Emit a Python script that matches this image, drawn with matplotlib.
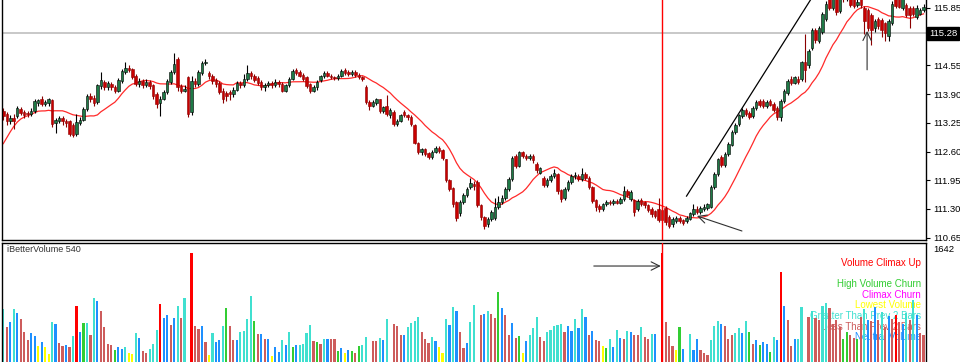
import matplotlib
matplotlib.use("Agg")
import matplotlib.pyplot as plt
import numpy as np
import pandas as pd

# ---------------- data ----------------
open_ = [
    113.52,113.45,113.30,113.36,113.40,113.56,113.50,113.48,113.45,113.52,
    113.70,113.78,113.68,113.70,113.76,113.24,113.30,113.36,113.30,113.28,
    113.20,113.00,113.24,113.32,113.56,113.86,113.82,113.72,114.08,114.18,
    114.06,114.14,114.06,113.98,114.20,114.40,114.50,114.46,114.32,114.12,
    114.20,114.10,114.18,114.10,113.90,113.70,113.80,113.95,114.18,114.40,
    114.70,114.08,113.98,114.28,113.50,114.20,114.12,114.38,114.60,114.38,
    114.32,114.22,114.16,113.98,113.92,113.95,113.90,114.00,114.15,114.10,
    114.24,114.38,114.32,114.26,114.18,114.05,114.10,114.15,114.10,114.18,
    114.14,113.98,114.10,114.25,114.44,114.40,114.34,114.28,114.12,113.98,
    114.05,114.22,114.30,114.38,114.32,114.28,114.26,114.32,114.44,114.40,
    114.36,114.40,114.34,114.28,114.05,113.72,113.64,113.70,113.78,113.52,
    113.62,113.42,113.50,113.22,113.30,113.50,113.42,113.38,113.20,112.80,
    112.58,112.66,112.56,112.48,112.60,112.68,112.64,112.42,111.95,111.78,
    111.45,111.20,111.45,111.62,111.80,111.86,111.90,111.38,111.12,110.95,
    111.08,111.10,111.35,111.45,111.55,111.75,111.98,112.50,112.28,112.58,
    112.50,112.45,112.50,112.32,112.12,112.00,111.85,111.95,112.05,112.10,
    111.72,111.55,111.75,111.90,112.05,112.04,111.98,112.10,112.00,111.80,
    111.50,111.36,111.30,111.40,111.46,111.43,111.48,111.44,111.52,111.70,
    111.52,111.50,111.30,111.50,111.45,111.38,111.30,111.25,111.30,111.28,
    111.32,111.12,110.95,111.02,111.10,111.05,111.02,111.08,111.18,111.30,
    111.22,111.30,111.32,111.35,111.80,112.08,112.48,112.30,112.55,112.75,
    113.05,113.22,113.40,113.55,113.48,113.40,113.58,113.75,113.74,113.62,
    113.74,113.68,113.58,113.38,113.75,113.92,114.25,114.15,114.25,114.25,
    114.62,114.55,114.95,115.35,115.10,115.30,115.60,116.15,115.85,116.15,
    115.78,116.10,116.05,116.20,116.10,115.92,116.05,115.85,115.80,115.70,
    115.40,115.60,115.58,115.50,115.22,115.50,116.10,116.05,115.85,115.92,
    115.85,115.85,115.65,115.72,115.80,
]
high = [
    113.58,113.50,113.42,113.45,113.62,113.60,113.55,113.52,113.58,113.78,
    113.80,113.86,113.76,113.82,113.80,113.36,113.40,113.40,113.34,113.32,
    113.24,113.45,113.38,113.60,113.90,113.92,113.88,114.14,114.40,114.22,
    114.20,114.18,114.10,114.26,114.46,114.62,114.56,114.50,114.36,114.26,
    114.24,114.24,114.22,114.14,113.94,113.86,114.00,114.24,114.44,114.82,
    114.74,114.12,114.10,114.32,114.30,114.26,114.44,114.64,114.70,114.42,
    114.36,114.26,114.20,114.04,113.98,114.00,114.06,114.20,114.20,114.35,
    114.56,114.42,114.36,114.30,114.22,114.16,114.20,114.20,114.24,114.22,
    114.18,114.14,114.28,114.46,114.48,114.44,114.38,114.30,114.16,114.10,
    114.22,114.34,114.42,114.42,114.36,114.32,114.36,114.46,114.48,114.44,
    114.44,114.44,114.38,114.32,114.10,113.76,113.76,113.82,113.80,113.64,
    113.88,113.58,113.54,113.34,113.46,113.54,113.46,113.42,113.22,112.82,
    112.68,112.68,112.60,112.64,112.72,112.72,112.66,112.44,111.98,111.80,
    111.48,111.50,111.66,111.80,112.00,111.94,111.95,111.40,111.14,111.12,
    111.28,111.55,111.60,111.62,111.80,112.02,112.50,112.54,112.62,112.62,
    112.54,112.54,112.54,112.36,112.26,112.04,112.00,112.10,112.20,112.12,
    111.75,111.80,111.95,112.10,112.14,112.10,112.22,112.14,112.04,111.82,
    111.52,111.40,111.44,111.50,111.50,111.52,111.52,111.56,111.82,111.76,
    111.72,111.52,111.52,111.54,111.48,111.42,111.34,111.28,111.55,111.40,
    111.36,111.16,111.12,111.14,111.14,111.08,111.14,111.24,111.40,111.36,
    111.36,111.40,111.44,111.84,112.14,112.46,112.52,112.58,112.82,113.08,
    113.24,113.46,113.58,113.58,113.52,113.62,113.76,113.78,113.78,113.76,
    113.78,113.72,113.62,113.80,114.02,114.24,114.30,114.32,114.30,114.66,
    115.25,114.92,115.40,115.40,115.45,115.76,116.00,116.20,116.20,116.25,
    116.20,116.20,116.25,116.25,116.15,116.05,116.10,115.90,115.84,115.74,
    115.60,115.64,115.62,115.54,115.60,116.00,116.15,116.10,116.15,115.96,
    115.90,115.90,115.92,115.86,115.94,
]
low = [
    113.32,113.20,113.22,113.12,113.35,113.42,113.36,113.38,113.40,113.48,
    113.64,113.62,113.62,113.64,113.15,113.02,113.24,113.20,113.16,112.94,
    112.92,112.96,113.20,113.28,113.52,113.72,113.64,113.68,114.02,114.00,
    114.00,114.00,113.92,113.94,114.16,114.36,114.40,114.24,114.08,114.06,
    114.04,114.06,114.02,113.80,113.58,113.40,113.76,113.90,114.14,114.36,
    113.98,113.92,113.94,113.38,113.42,114.06,114.08,114.34,114.56,114.24,
    114.14,114.06,113.90,113.70,113.74,113.76,113.84,113.96,114.04,114.06,
    114.20,114.24,114.18,114.10,114.00,113.98,114.06,114.04,114.06,114.06,
    113.94,113.94,114.06,114.22,114.34,114.28,114.20,114.04,113.92,113.94,
    114.00,114.18,114.26,114.28,114.24,114.22,114.22,114.28,114.34,114.32,
    114.32,114.28,114.24,114.20,113.68,113.55,113.60,113.66,113.48,113.48,
    113.40,113.36,113.18,113.18,113.26,113.38,113.32,113.18,112.76,112.54,
    112.52,112.50,112.42,112.44,112.56,112.56,112.40,111.90,111.70,111.34,
    111.02,111.15,111.40,111.58,111.74,111.72,111.34,111.06,110.84,110.90,
    111.02,111.06,111.30,111.40,111.50,111.70,111.94,112.22,112.24,112.46,
    112.40,112.40,112.34,112.12,112.08,111.80,111.80,111.90,112.00,111.64,
    111.45,111.50,111.70,111.86,111.98,111.94,111.94,111.96,111.76,111.44,
    111.26,111.24,111.26,111.36,111.38,111.38,111.40,111.40,111.48,111.56,
    111.48,111.15,111.26,111.36,111.32,111.22,111.12,111.10,111.00,110.98,
    110.94,110.86,110.90,110.98,110.98,110.94,110.98,111.04,111.14,111.18,
    111.18,111.26,111.28,111.32,111.76,112.04,112.26,112.26,112.50,112.72,
    113.00,113.18,113.36,113.40,113.34,113.36,113.54,113.60,113.58,113.58,
    113.62,113.50,113.32,113.30,113.70,113.88,114.10,114.12,114.14,114.20,
    114.18,114.50,114.90,115.05,115.05,115.26,115.55,115.80,115.80,115.70,
    115.74,115.98,116.00,115.88,115.85,115.88,115.85,115.25,115.34,115.02,
    115.30,115.38,115.20,115.10,115.10,115.46,115.86,115.84,115.80,115.64,
    115.40,115.66,115.60,115.68,115.76,
]
close = [
    113.40,113.28,113.36,113.30,113.58,113.48,113.42,113.44,113.52,113.74,
    113.76,113.68,113.72,113.78,113.22,113.32,113.36,113.28,113.24,113.00,
    112.98,113.26,113.32,113.56,113.86,113.80,113.70,114.10,114.22,114.05,
    114.15,114.05,113.98,114.22,114.42,114.50,114.45,114.28,114.12,114.20,
    114.10,114.18,114.08,113.85,113.68,113.80,113.95,114.20,114.40,114.58,
    114.05,113.98,114.02,113.45,114.20,114.12,114.40,114.60,114.63,114.30,
    114.20,114.12,113.95,113.80,113.85,113.90,114.00,114.15,114.10,114.25,
    114.38,114.30,114.22,114.15,114.05,114.10,114.15,114.10,114.18,114.12,
    113.98,114.10,114.25,114.42,114.38,114.32,114.25,114.08,113.98,114.05,
    114.18,114.30,114.38,114.32,114.28,114.26,114.32,114.42,114.38,114.36,
    114.40,114.33,114.28,114.25,113.72,113.62,113.72,113.78,113.52,113.60,
    113.45,113.55,113.22,113.30,113.42,113.42,113.38,113.22,112.80,112.58,
    112.65,112.55,112.48,112.60,112.68,112.62,112.45,111.95,111.75,111.40,
    111.10,111.45,111.62,111.75,111.88,111.82,111.38,111.12,110.92,111.08,
    111.22,111.35,111.45,111.55,111.75,111.98,112.45,112.28,112.58,112.50,
    112.45,112.50,112.40,112.18,112.22,111.85,111.95,112.05,112.12,111.70,
    111.52,111.75,111.90,112.05,112.05,111.98,112.08,112.00,111.80,111.48,
    111.34,111.30,111.40,111.45,111.43,111.48,111.44,111.52,111.70,111.62,
    111.68,111.22,111.48,111.40,111.38,111.28,111.18,111.15,111.05,111.05,
    111.00,110.92,111.08,111.10,111.02,110.98,111.10,111.20,111.30,111.22,
    111.32,111.35,111.40,111.80,112.10,112.42,112.30,112.55,112.78,113.05,
    113.20,113.42,113.55,113.45,113.38,113.58,113.72,113.65,113.62,113.72,
    113.66,113.55,113.38,113.75,113.98,114.20,114.15,114.28,114.18,114.62,
    114.45,114.88,115.35,115.12,115.40,115.72,115.95,115.85,116.10,115.75,
    116.10,116.05,116.15,115.92,115.90,115.98,115.92,115.55,115.40,115.35,
    115.55,115.45,115.35,115.28,115.55,115.95,115.90,115.88,116.05,115.70,
    115.68,115.72,115.85,115.80,115.88,
]
# closes of the bars just before the visible window (for the moving average)
prior_close = [111.4, 111.5, 111.6, 112.2, 112.5, 112.8, 113.0, 113.1, 113.2,
               113.3, 113.6, 113.7, 113.6]
ma_period = 14

volume = [
    736,482,560,736,676,593,412,306,398,361,
    222,278,213,111,556,528,264,222,241,204,
    361,778,421,542,542,375,884,847,713,482,
    250,236,167,204,181,213,130,111,398,338,
    157,130,181,250,444,810,616,653,519,616,
    773,607,884,0,1519,505,458,500,278,97,
    398,282,306,505,750,495,306,306,421,435,
    593,917,569,384,384,319,315,83,204,144,
    306,241,421,213,241,241,250,407,519,292,
    278,250,324,324,315,315,153,190,120,167,
    153,120,222,236,343,0,292,292,333,306,
    593,0,528,495,370,370,482,542,569,625,
    412,324,264,343,292,204,120,593,509,764,
    704,421,194,264,556,787,0,653,667,713,
    667,607,968,750,653,375,542,338,361,130,
    292,375,472,625,347,292,412,449,495,519,
    528,421,495,435,593,472,736,630,375,435,
    306,292,222,190,315,204,444,338,315,435,
    421,375,375,491,352,319,384,384,0,1519,
    556,361,218,167,482,181,0,384,167,324,
    167,130,97,310,495,569,532,505,324,375,
    407,468,407,569,417,250,301,236,273,250,
    139,347,306,1245,773,579,218,315,319,769,
    0,630,713,607,579,782,815,745,523,579,
    482,315,412,380,338,319,620,736,583,565,
    769,583,699,486,639,597,653,560,528,676,
    583,861,653,407,375,
]
vol_class = list(
    "TIBTBIIIBB" "YBYYTBIIBI" "TRBGTITBII" "IIGBBTYYTB" "IITTTRBBIB"
    "TITWRIIBIY" "TBBTGIIBTT" "TTGIBIBYBB" "TBTGBTTTTI" "GITBIIGBYB"
    "GIGTTWIITB" "TWIIIBTTTT" "IIITBYYTBT" "BIIBTTWIBT" "IIGBIIBIGY"
    "BTTTIITTTT" "TIBBTBTBIB" "IIYGTBTBIT" "BIITIITBWR" "IIIYGBWTBB"
    "IIITTTBIII" "TTBTGIBGBB" "GTBRBIIBTT" "WITIITTIII" "IGGIIGITBI"
    "BITIBIRIBT" "ITBII"
)

price_ticks = [110.65, 111.30, 111.95, 112.60, 113.25, 113.90, 114.55, 115.20, 115.85]
current_price = 115.28
vol_top_label = "1642"
marker_bar = 189
indicator_name = "iBetterVolume 540"
legend_labels = ["Volume Climax Up", "Volume Climax Down", "High Volume Churn",
                 "Climax Churn", "Lowest Volume", "Greater Than Prev 2 Bars",
                 "Less Than Prev 2 Bars", "Neutral Volume"]
legend_keys = ["R", "W", "G", "M", "Y", "T", "I", "B"]
class_colors = {"R": "#FF0000", "W": "#FFFFFF", "G": "#32CD32", "M": "#FF00FF",
                "Y": "#FFFF00", "T": "#40E0D0", "I": "#CD5C5C", "B": "#1E90FF"}

# annotation anchors (bar index, price / volume)
trend_line = ((196.0, 111.59), (232.5, 116.15))
arrows_main = [((211.9, 110.80), (199.0, 111.14)),
               ((247.8, 114.45), (247.8, 115.33))]
arrow_vol = ((169.4, 1334), (188.6, 1334))

# ---------------- figure ----------------
W, H = 960, 362
fig = plt.figure(figsize=(W / 100, H / 100), dpi=100)
fig.patch.set_facecolor("white")
L, AW = 2 / W, 924 / W
ax = fig.add_axes([L, 1 - 240 / H, AW, 240 / H])
axv = fig.add_axes([L, 0, AW, 119 / H])

n = min(len(open_), len(high), len(low), len(close), len(volume), len(vol_class))
x = np.arange(n)
o = np.array(open_[:n]); hi = np.array(high[:n]); lo = np.array(low[:n]); c = np.array(close[:n])
up = c >= o

xlim = (-0.37, 264.7)
for a in (ax, axv):
    a.set_xlim(*xlim)
    a.set_xticks([])
    a.set_facecolor("white")
ax.set_ylim(110.596, 116.031)
axv.set_ylim(0, 1654)

# current price line
ax.axhline(current_price, color="#C4C4C4", lw=1.3, zorder=0.5)

# moving average
ma = pd.Series(prior_close + list(c)).rolling(ma_period).mean().to_numpy()[len(prior_close):]
ax.plot(x, ma, color="#FF2A2A", lw=0.9, zorder=1.2)

# candles
ax.vlines(x[up], lo[up], hi[up], color="black", lw=0.8, zorder=2)
ax.vlines(x[~up], lo[~up], hi[~up], color="#8B0000", lw=0.8, zorder=2)
body_lo = np.minimum(o, c)
body_h = np.maximum(np.abs(c - o), 0.012)
ax.bar(x[up], body_h[up], bottom=body_lo[up], width=0.72, color="#1E7A46",
       edgecolor="black", linewidth=0.4, zorder=2.2)
ax.bar(x[~up], body_h[~up], bottom=body_lo[~up], width=0.72, color="#C80000",
       edgecolor="#8B0000", linewidth=0.4, zorder=2.2)

# marker vertical line
ax.axvline(marker_bar, color="red", lw=1.0, zorder=3)
axv.axvline(marker_bar, color="red", lw=1.0, zorder=3)

# annotations
(x0, y0), (x1, y1) = trend_line
ax.plot([x0, x1], [y0, y1], color="black", lw=0.9, zorder=3)
for tail, head in arrows_main:
    ax.annotate("", xy=head, xytext=tail,
                arrowprops=dict(arrowstyle="->,head_length=0.6,head_width=0.3",
                                color="#303030", lw=0.8, shrinkA=0, shrinkB=0), zorder=4)
axv.annotate("", xy=arrow_vol[1], xytext=arrow_vol[0],
             arrowprops=dict(arrowstyle="->,head_length=0.6,head_width=0.3",
                             color="#303030", lw=0.8, shrinkA=0, shrinkB=0), zorder=4)

# price axis (the label hidden under the current-price box is left blank)
ax.yaxis.tick_right()
ax.set_yticks(price_ticks)
tick_text = ["" if abs(v - current_price) < 0.2 else f"{v:.2f}" for v in price_ticks]
ax.set_yticklabels(tick_text, family="Liberation Sans")
ax.tick_params(axis="y", length=3, width=0.8, pad=2, labelsize=6.8, colors="black")
ax.text(1.0035, current_price, f"{current_price:.2f}", transform=ax.get_yaxis_transform(),
        ha="left", va="center", fontsize=6.8, color="white", family="Liberation Sans",
        bbox=dict(boxstyle="square,pad=0.2", fc="black", ec="black"), zorder=10, clip_on=False)

for s in ("left", "right", "bottom"):
    ax.spines[s].set_color("black"); ax.spines[s].set_linewidth(1.0)
ax.spines["top"].set_visible(False)

# volume panel
axv.set_yticks([])
for s in ("left", "right", "top"):
    axv.spines[s].set_color("black"); axv.spines[s].set_linewidth(1.0)
axv.spines["bottom"].set_visible(False)
axv.bar(x, volume[:n], width=0.62, color=[class_colors[k] for k in vol_class[:n]],
        linewidth=0, zorder=2)

axv.text(5 / 924, (362 - 249) / 119, indicator_name, transform=axv.transAxes,
         ha="left", va="center", fontsize=6.5, color="#333333", family="Liberation Sans")
axv.text(1.0075, (362 - 249) / 119, vol_top_label, transform=axv.transAxes,
         ha="left", va="center", fontsize=6.8, color="black", family="Liberation Sans",
         clip_on=False)
for k, (lab, key) in enumerate(zip(legend_labels, legend_keys)):
    ypx = 263.3 + 10.55 * k
    axv.text((921 - 2) / 924, (362 - ypx) / 119, lab, transform=axv.transAxes,
             ha="right", va="center", fontsize=7, color=class_colors[key],
             family="Liberation Sans", zorder=1)

fig.savefig("out.png", dpi=100, facecolor="white")
